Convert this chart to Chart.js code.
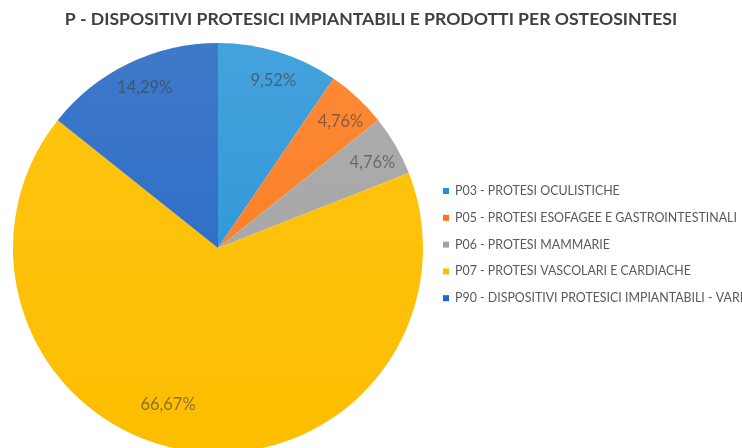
<!DOCTYPE html>
<html>
<head>
<meta charset="utf-8">
<script src="https://cdn.jsdelivr.net/npm/chart.js@4.4.1/dist/chart.umd.min.js"></script>
<style>
  html, body { margin: 0; padding: 0; background: #fff; overflow: hidden; }
  #wrap { width: 742px; height: 448px; overflow: hidden; }
  canvas { display: block; }
</style>
</head>
<body>
<div id="wrap"><canvas id="pieChart" width="742" height="460"></canvas></div>
<script>
const categories = [
    'P03 - PROTESI OCULISTICHE',
    'P05 - PROTESI ESOFAGEE E GASTROINTESTINALI',
    'P06 - PROTESI MAMMARIE',
    'P07 - PROTESI VASCOLARI E CARDIACHE',
    'P90 - DISPOSITIVI PROTESICI IMPIANTABILI - VARI'
];
const counts = [2, 1, 1, 14, 3];
const baseColors = ['#2390d6', '#fb761c', '#a3a3a3', '#fdbd00', '#1f66c6'];
const topColors = ['#45a2dc', '#fd8a36', '#adadad', '#ffc512', '#3f79c9'];

const chartTitle = 'P - DISPOSITIVI PROTESICI IMPIANTABILI E PRODOTTI PER OSTEOSINTESI';
const FONT = 'Lato, "Open Sans", sans-serif';

// soft top-to-bottom shading on every slice
function sliceFill(ctx) {
    const area = ctx.chart.chartArea;
    if (!area) return baseColors[ctx.dataIndex];
    const g = ctx.chart.ctx.createLinearGradient(0, area.top, 0, area.bottom);
    g.addColorStop(0, topColors[ctx.dataIndex]);
    g.addColorStop(1, baseColors[ctx.dataIndex]);
    return g;
}

// title centred over the whole canvas
const pageTitle = {
    id: 'pageTitle',
    afterDraw(chart) {
        const ctx = chart.ctx;
        ctx.save();
        ctx.font = 'bold 17.6px ' + FONT;
        ctx.fillStyle = '#404040';
        ctx.textAlign = 'center';
        ctx.textBaseline = 'middle';
        ctx.fillText(chartTitle, 371, 19);
        ctx.restore();
    }
};

// percentage labels near the outer edge of each slice
const sliceLabels = {
    id: 'sliceLabels',
    afterDatasetsDraw(chart) {
        const ctx = chart.ctx;
        const meta = chart.getDatasetMeta(0);
        const total = counts.reduce((a, b) => a + b, 0);
        ctx.save();
        ctx.font = '16.5px ' + FONT;
        ctx.fillStyle = 'rgba(64,64,64,0.6)';
        ctx.textAlign = 'center';
        ctx.textBaseline = 'middle';
        meta.data.forEach((arc, i) => {
            const p = arc.getProps(['x', 'y', 'startAngle', 'endAngle', 'outerRadius'], true);
            const big = counts[i] / total > 0.5;
            const mid = (p.startAngle + p.endAngle) / 2 + (big ? 0.16 : 0.02);
            const r = p.outerRadius * (big ? 0.8 : 0.86);
            const txt = (counts[i] / total * 100).toFixed(2).replace('.', ',') + '%';
            ctx.fillText(txt, p.x + Math.cos(mid) * r, p.y + Math.sin(mid) * r);
        });
        ctx.restore();
    }
};

// legend list on the right
const sideLegend = {
    id: 'sideLegend',
    afterDraw(chart) {
        const ctx = chart.ctx;
        ctx.save();
        ctx.font = '12.4px ' + FONT;
        ctx.textBaseline = 'middle';
        categories.forEach((name, i) => {
            const y = 191 + i * 26.8;
            ctx.fillStyle = baseColors[i];
            ctx.fillRect(443, y - 3, 6, 6);
            ctx.fillStyle = '#595959';
            ctx.fillText(name, 455, y);
        });
        ctx.restore();
    }
};

new Chart(document.getElementById('pieChart').getContext('2d'), {
    type: 'pie',
    data: {
        labels: categories,
        datasets: [{
            data: counts,
            backgroundColor: sliceFill,
            borderWidth: 0,
            hoverOffset: 0
        }]
    },
    options: {
        responsive: false,
        animation: false,
        layout: { padding: { left: 13, right: 319, top: 43, bottom: 7 } },
        plugins: {
            legend: { display: false },
            tooltip: { enabled: false },
            title: { display: false }
        }
    },
    plugins: [sliceLabels, sideLegend, pageTitle]
});
</script>
</body>
</html>
